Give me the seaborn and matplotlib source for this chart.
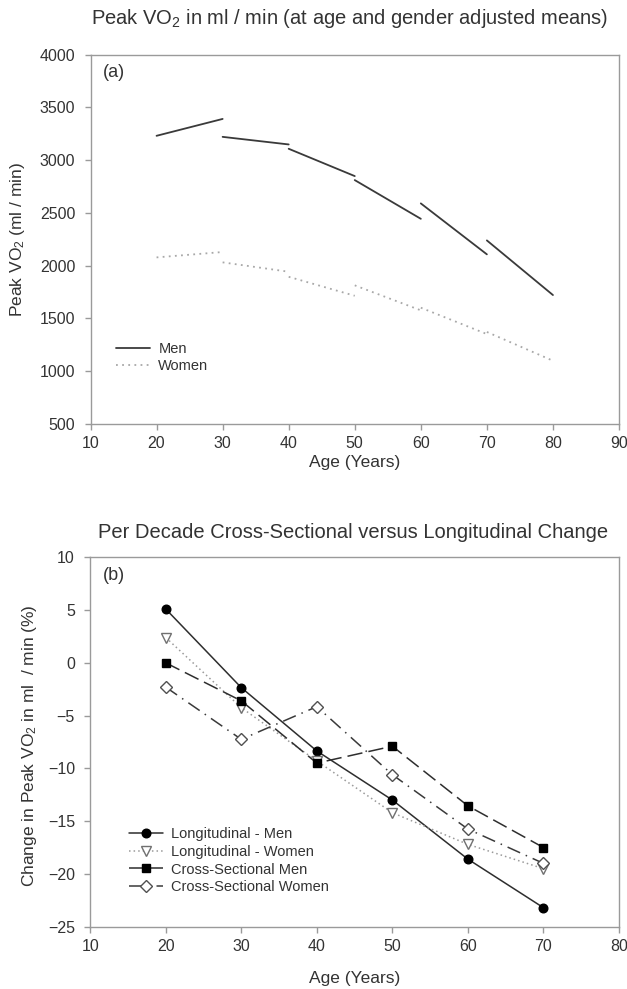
import numpy as np
import pandas as pd
import matplotlib
matplotlib.use("Agg")
import matplotlib.pyplot as plt
from matplotlib.lines import Line2D
import seaborn as sns

# ---------------- data ----------------
# panel (a): decade segments (start age -> start age + 10)
seg_start_age = [20, 30, 40, 50, 60, 70]
men_start = [3230, 3220, 3107, 2810, 2589, 2238]
men_end = [3390, 3148, 2848, 2443, 2106, 1720]
women_start = [2077, 2030, 1893, 1812, 1600, 1370]
women_end = [2128, 1941, 1713, 1575, 1350, 1097]

# panel (b): per-decade change (%)
ages_b = [20, 30, 40, 50, 60, 70]
long_men = [5.1, -2.35, -8.35, -13.0, -18.6, -23.2]
long_women = [2.4, -4.25, -9.3, -14.2, -17.2, -19.5]
cross_men = [0.0, -3.6, -9.5, -7.9, -13.55, -17.5]
cross_women = [-2.3, -7.25, -4.15, -10.6, -15.75, -19.0]

series_names = ["Longitudinal - Men", "Longitudinal - Women",
                "Cross-Sectional Men", "Cross-Sectional Women"]

# ---------------- style ----------------
sns.set_theme(style="white")
plt.rcParams['font.family'] = ['Liberation Sans', 'DejaVu Sans']
plt.rcParams['mathtext.fontset'] = 'custom'
plt.rcParams['mathtext.rm'] = 'Liberation Sans'
plt.rcParams['mathtext.it'] = 'Liberation Sans'

TXT = '#333333'
SPINE = '#9a9a9a'
TICK_FS = 11.5
LAB_FS = 12.5
TITLE_FS = 14.5
LEG_FS = 10.5

fig = plt.figure(figsize=(6.27, 9.89), dpi=100)
W, H = 627, 989
ax_a = fig.add_axes([90.5 / W, 1 - 423.7 / H, (619 - 90.5) / W, (423.7 - 54.6) / H])
ax_b = fig.add_axes([90.2 / W, 1 - 926.7 / H, (619 - 90.2) / W, (926.7 - 557.3) / H])


def style_axes(ax):
    for s in ax.spines.values():
        s.set_color(SPINE)
        s.set_linewidth(1.0)
    ax.tick_params(axis='both', which='both', direction='out', length=4,
                   width=1, color=SPINE, labelcolor=TXT, labelsize=TICK_FS,
                   left=True, bottom=True, right=False, top=False)
    ax.tick_params(axis='x', pad=4.5)
    ax.tick_params(axis='y', pad=7)


# ---------------- panel (a) ----------------
rows = []
for i, a0 in enumerate(seg_start_age):
    rows.append(dict(age=a0, vo2=men_start[i], sex='Men', seg=i))
    rows.append(dict(age=a0 + 10, vo2=men_end[i], sex='Men', seg=i))
    rows.append(dict(age=a0, vo2=women_start[i], sex='Women', seg=i))
    rows.append(dict(age=a0 + 10, vo2=women_end[i], sex='Women', seg=i))
df_a = pd.DataFrame(rows)

MEN_C = '#3a3a3a'
WOMEN_C = '#a8a8a8'
WOMEN_LS = (0, (1, 2.4))
sns.lineplot(data=df_a[df_a.sex == 'Men'], x='age', y='vo2', units='seg',
             estimator=None, color=MEN_C, lw=1.3, ax=ax_a, legend=False)
sns.lineplot(data=df_a[df_a.sex == 'Women'], x='age', y='vo2', units='seg',
             estimator=None, color=WOMEN_C, lw=1.3, ax=ax_a, legend=False,
             linestyle=WOMEN_LS)

ax_a.set_xlim(10, 90)
ax_a.set_ylim(500, 4000)
ax_a.set_xticks(range(10, 91, 10))
ax_a.set_yticks(range(500, 4001, 500))
style_axes(ax_a)
ax_a.set_xlabel('Age (Years)', fontsize=LAB_FS, color=TXT)
ax_a.xaxis.set_label_coords(0.5, -(463 - 423.7) / 369.1, transform=ax_a.transAxes)
ax_a.xaxis.label.set_va('center')
ax_a.set_ylabel('Peak VO$_2$ (ml / min)', fontsize=LAB_FS, color=TXT)
ax_a.yaxis.set_label_coords((18 - 90.5) / 528.5, 0.5)
ax_a.yaxis.label.set_va('center')
fig.text(350 / W, 1 - 19 / H,
         'Peak VO$_2$ in ml / min (at age and gender adjusted means)',
         fontsize=TITLE_FS, color=TXT, ha='center', va='center')
ax_a.text(103 / W, 1 - 72.5 / H, '(a)', transform=fig.transFigure,
          fontsize=13, color=TXT, va='center', ha='left')

h_a = [Line2D([], [], color=MEN_C, lw=1.3),
       Line2D([], [], color=WOMEN_C, lw=1.3, linestyle=WOMEN_LS)]
ax_a.legend(h_a, ['Men', 'Women'], loc='center left',
            bbox_to_anchor=(116 / W, 1 - 357.5 / H), bbox_transform=fig.transFigure,
            frameon=False, fontsize=LEG_FS, borderpad=0, borderaxespad=0,
            handlelength=2.3, handletextpad=0.6, labelspacing=0.25,
            labelcolor=TXT)

# ---------------- panel (b) ----------------
df_b = pd.DataFrame({
    'age': ages_b * 4,
    'change': long_men + long_women + cross_men + cross_women,
    'series': sum([[n] * len(ages_b) for n in series_names], []),
})

styles = {
    "Longitudinal - Men": dict(color='#2e2e2e', linestyle='-', marker='o',
                               mfc='black', mec='black', ms=6.2),
    "Longitudinal - Women": dict(color='#9a9a9a', linestyle=(0, (1, 2)),
                                 marker='v', mfc='white', mec='#707070', ms=6.5),
    "Cross-Sectional Men": dict(color='#2e2e2e', linestyle=(0, (10, 4)),
                                marker='s', mfc='black', mec='black', ms=6),
    "Cross-Sectional Women": dict(color='#3a3a3a', linestyle=(0, (9, 4, 1, 4)),
                                  marker='D', mfc='white', mec='#505050', ms=6.2),
}
handles = []
for name in series_names:
    st = styles[name]
    sub = df_b[df_b.series == name]
    sns.lineplot(data=sub, x='age', y='change', ax=ax_b, estimator=None,
                 color=st['color'], linestyle=st['linestyle'], lw=1.1,
                 marker=st['marker'], markerfacecolor=st['mfc'],
                 markeredgecolor=st['mec'], markersize=st['ms'],
                 markeredgewidth=1.0, legend=False)
    handles.append(Line2D([], [], color=st['color'], linestyle=st['linestyle'],
                          lw=1.1, marker=st['marker'], markerfacecolor=st['mfc'],
                          markeredgecolor=st['mec'], markersize=st['ms'],
                          markeredgewidth=1.0))

ax_b.set_xlim(10, 80)
ax_b.set_ylim(-25, 10)
ax_b.set_xticks(range(10, 81, 10))
ax_b.set_yticks(range(-25, 11, 5))
style_axes(ax_b)
ax_b.set_xlabel('Age (Years)', fontsize=LAB_FS, color=TXT)
ax_b.xaxis.set_label_coords(0.5, -(978 - 926.7) / 369.4, transform=ax_b.transAxes)
ax_b.xaxis.label.set_va('center')
ax_b.set_ylabel('Change in Peak VO$_2$ in ml  / min (%)', fontsize=LAB_FS,
                color=TXT)
ax_b.yaxis.set_label_coords((30 - 90.2) / 528.8, 0.49)
ax_b.yaxis.label.set_va('center')
fig.text(353.5 / W, 1 - 533 / H,
         'Per Decade Cross-Sectional versus Longitudinal Change',
         fontsize=TITLE_FS, color=TXT, ha='center', va='center')
ax_b.text(103 / W, 1 - 575.5 / H, '(b)', transform=fig.transFigure,
          fontsize=13, color=TXT, va='center', ha='left')
ax_b.legend(handles, series_names, loc='center left',
            bbox_to_anchor=(129 / W, 1 - 860.7 / H), bbox_transform=fig.transFigure,
            frameon=False, fontsize=LEG_FS, borderpad=0, borderaxespad=0,
            handlelength=2.3, handletextpad=0.55, labelspacing=0.25,
            labelcolor=TXT)

fig.savefig('out.png', dpi=100)
